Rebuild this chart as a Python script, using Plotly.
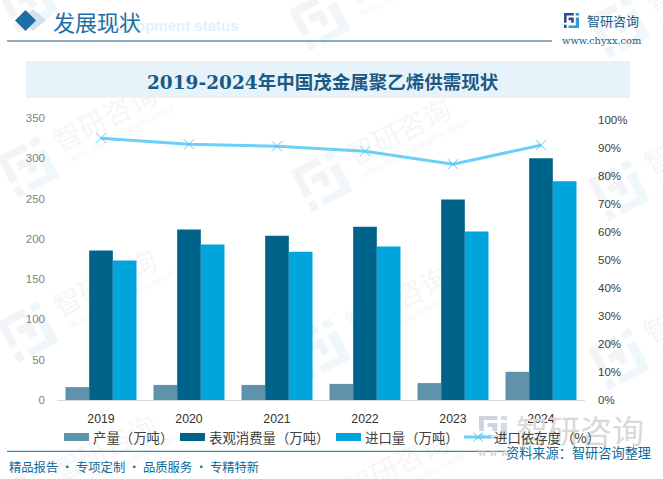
import math
import plotly.graph_objects as go

years = ["2019", "2020", "2021", "2022", "2023", "2024"]
production = [16, 18.7, 18.7, 20, 21, 35]
consumption = [185.5, 211.5, 204, 215, 249, 300]
imports = [173, 193, 184, 190.5, 209, 271.5]
dependency = [93.5, 91.3, 90.6, 88.8, 84.2, 91]
left_ticks = [0, 50, 100, 150, 200, 250, 300, 350]
right_ticks = list(range(0, 101, 10))
right_labels = [f"{v}%" for v in right_ticks]
series_names = ["产量（万吨）", "表观消费量（万吨）", "进口量（万吨）", "进口依存度（%）"]
series_colors = ["#5f93ab", "#00638a", "#00a5de", "#6ccff6"]

W, H = 663, 479
def px(x): return x / W
def py(y): return 1 - y / H

def rect(x0, y0, x1, y1, color, layer="below"):
    return dict(type="rect", xref="paper", yref="paper", x0=px(x0), x1=px(x1), y0=py(y1), y1=py(y0),
                fillcolor=color, line_width=0, layer=layer)

def poly(points, color, layer="below"):
    d = "M" + " L".join(f"{px(x):.5f},{py(y):.5f}" for x, y in points) + " Z"
    return dict(type="path", xref="paper", yref="paper", path=d, fillcolor=color, line_width=0, layer=layer)

def hline(x0, x1, y, color, width=1, layer="below"):
    return dict(type="line", xref="paper", yref="paper", x0=px(x0), x1=px(x1), y0=py(y), y1=py(y),
                line=dict(color=color, width=width), layer=layer)

def text(x, y, s, size, color, family="Noto Sans CJK SC", anchor="center", angle=0, weight=None):
    return dict(xref="paper", yref="paper", x=px(x), y=py(y), text=s, showarrow=False, xanchor=anchor, yanchor="middle",
                textangle=angle, font=dict(size=size, color=color, family=family, weight=weight))

def wm_label(cx, cy, s, size, angle, color):
    return dict(type="rect", xref="paper", yref="paper", x0=px(cx - 70), x1=px(cx + 70), y0=py(cy + 70), y1=py(cy - 70),
                line_width=0, fillcolor="rgba(0,0,0,0)", layer="below",
                label=dict(text=s, textangle=angle, textposition="middle center",
                           font=dict(size=size, color=color, family="Noto Sans CJK SC")))

LOGO_DARK = [
    [(0, 0), (30, 0), (30, 8), (8, 8), (8, 30), (0, 30)],
    [(0, 36), (8, 36), (8, 46), (0, 46)],
    [(14, 14), (30, 14), (30, 30), (22, 30), (22, 22), (14, 22)],
]
LOGO_LIGHT = [
    [(36, 0), (46, 0), (46, 8), (36, 8)],
    [(36, 14), (46, 14), (46, 46), (14, 46), (14, 38), (36, 38)],
]

def logo(cx, cy, sx, sy, angle, dark, light):
    a = math.radians(angle)
    out = []
    for pieces, col in ((LOGO_DARK, dark), (LOGO_LIGHT, light)):
        for piece in pieces:
            pts = []
            for x, y in piece:
                u, v = (x - 23) * sx, (y - 23) * sy
                pts.append((cx + u * math.cos(a) - v * math.sin(a), cy + u * math.sin(a) + v * math.cos(a)))
            out.append(poly(pts, col))
    return out

shapes = []
wm_logos = [(28, 2), (320, 20), (619, 27),
            (28, 167), (322, 181), (619, 190),
            (28, 332), (320, 349), (619, 359),
            (28, 497), (320, 514)]
for lx, ly in wm_logos:
    shapes += logo(lx, ly, 1.0, 1.0, -27, "#f2f4f8", "#f0f7fb")
    shapes.append(wm_label(lx + 78, ly - 47, "智研咨询", 28, -27, "#f6f6f6"))
    shapes.append(wm_label(lx + 94, ly - 32, "INTELLIGENCE RESEARCH GROUP", 7.5, -27, "#f5f5f5"))

shapes += [
    poly([(33, 9), (46, 20), (33, 31), (22, 20)], "#cfe2ee"),
    poly([(25.5, 10), (36, 20.5), (25.5, 31), (15, 20.5)], "#1b6fa8"),
    hline(7, 552, 41, "#1e5f8c", 1.2),
    rect(26, 61, 630, 98, "#e6f3fb"),
    hline(7, 505, 451.3, "#0f6a9a", 1),
]
shapes += logo(571.5, 20.5, 15 / 46, 15 / 46, 0, "#2f4b8f", "#2f9ad6")
shapes += logo(493, 427.5, 28 / 46, 23 / 46, 0, "#ccd4e0", "#d3dde8")

# legend swatches
for (x0, x1), col in zip([(64, 89), (180, 205), (336, 361)], series_colors):
    shapes.append(rect(x0, 433, x1, 441, col, layer="above"))
shapes.append(hline(464, 491, 437, series_colors[3], 3, layer="above"))
shapes.append(dict(type="line", xref="paper", yref="paper", x0=px(473.5), x1=px(482.5), y0=py(432.5), y1=py(441.5),
                   line=dict(color="#5cc8f5", width=1), layer="above"))
shapes.append(dict(type="line", xref="paper", yref="paper", x0=px(473.5), x1=px(482.5), y0=py(441.5), y1=py(432.5),
                   line=dict(color="#5cc8f5", width=1), layer="above"))

annotations = [
    text(94, 25, "Development status", 15, "#e3f1fa", "Liberation Sans", "left", weight=700),
    text(51, 21, "发展现状", 22, "#1c6ea4", "Noto Sans CJK SC", "left"),
    text(322.5, 83, "2019-2024年中国茂金属聚乙烯供需现状", 18.5, "#1c5a85", "DejaVu Serif, Noto Sans CJK SC", weight=700),
    text(585, 20, "智研咨询", 13, "#1c5a85", "Noto Sans CJK SC", "left"),
    text(560, 40, "www.chyxx.com", 9.8, "#1c5a85", "DejaVu Serif", "left"),
    text(7, 467, "精品报告 · 专项定制 · 品质服务 · 专精特新", 12.3, "#0f6a9a", "Noto Sans CJK SC", "left"),
    text(580, 429, "智研咨询", 32, "#d9d9d9", "Noto Sans CJK SC"),
    text(476, 452, "w w w", 10, "#cfcfcf", "DejaVu Sans", "left"),
    text(653, 452, "资料来源：智研咨询整理", 13.2, "#0f6a9a", "Noto Sans CJK SC", "right"),
]
for x, name in zip([91, 207, 363, 492], series_names):
    annotations.append(text(x, 437, name, 13.4, "#404040", "Noto Sans CJK SC", "left"))

fig = go.Figure()
for name, vals, col in zip(series_names[:3], [production, consumption, imports], series_colors[:3]):
    fig.add_bar(name=name, x=years, y=vals, marker=dict(color=col, line_width=0))
fig.add_scatter(name=series_names[3], x=years, y=dependency, yaxis="y2", mode="lines+markers",
                line=dict(color=series_colors[3], width=3),
                marker=dict(symbol="x-thin", size=10, line=dict(color="#5cc8f5", width=1)))

fig.update_layout(
    width=W, height=H, autosize=False, margin=dict(l=0, r=0, t=0, b=0),
    paper_bgcolor="white", plot_bgcolor="rgba(0,0,0,0)", showlegend=False,
    font=dict(family="Noto Sans CJK SC", color="#404040"),
    barmode="group", bargap=0.193, bargroupgap=0,
    xaxis=dict(domain=[px(57), px(585)], anchor="y", showgrid=False, showline=True, linecolor="#d9d9d9", linewidth=1,
               automargin=False, ticks="", ticklabelstandoff=7,
               tickfont=dict(size=12.3, color="#333333", family="Liberation Sans")),
    yaxis=dict(domain=[py(400), py(118)], range=[0, 350], tickvals=left_ticks, showgrid=False, zeroline=False,
               automargin=False, ticks="", ticklabelstandoff=11,
               tickfont=dict(size=11.5, color="#7f7f7f", family="Liberation Sans")),
    yaxis2=dict(overlaying="y", side="right", anchor="x", range=[0, 100.7], tickvals=right_ticks, ticktext=right_labels,
                automargin=False, showgrid=False, zeroline=False, ticks="", ticklabelstandoff=12,
                tickfont=dict(size=11.5, color="#404040", family="Liberation Sans")),
    shapes=shapes, annotations=annotations,
)

fig.write_html("out.html", config=dict(displayModeBar=False), post_script="document.body.style.margin='0';")
